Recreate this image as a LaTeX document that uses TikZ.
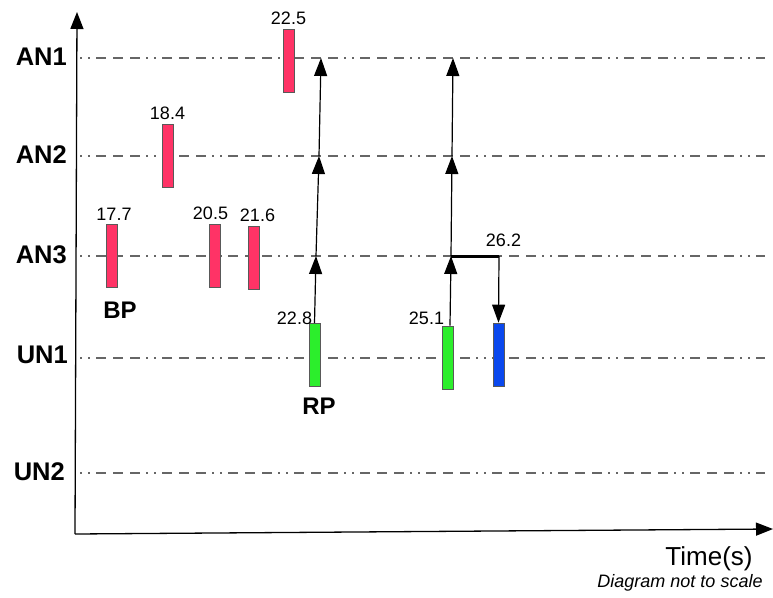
\documentclass[tikz,border=0pt]{standalone}
\usepackage{fontspec}
\setmainfont{Liberation Sans}
\usetikzlibrary{arrows.meta,positioning}

\definecolor{bpred}{HTML}{FF3366}
\definecolor{rpgreen}{HTML}{2CEE2C}
\definecolor{rpblue}{HTML}{0A48EE}

\tikzset{
  level/.style={font=\fontsize{25.5}{28}\selectfont\bfseries, anchor=east, inner sep=0pt},
  tag/.style={font=\fontsize{24}{28}\selectfont\bfseries, inner sep=0pt},
  val/.style={font=\fontsize{18}{20}\selectfont},
  grid/.style={draw=black!60, line width=1.4pt,
    dash pattern=on 2pt off 6pt on 2pt off 6pt on 10pt off 7pt on 10pt off 7pt on 10pt off 6pt},
  bar/.style={draw=black!65, line width=0.6pt, minimum width=11pt, minimum height=63pt, inner sep=0pt},
  hop/.style={-{Triangle[length=18pt,width=13pt]}, line width=1.2pt},
  axis/.style={-{Triangle[length=17pt,width=13pt]}, line width=1.3pt}
}

\begin{document}
\begin{tikzpicture}[x=1pt, y=-1pt]
    \useasboundingbox (0,0) rectangle (773,597);
    %levels
    \node[level] (AN1) at (67,57) {AN1};
    \node[level] (AN2) at (67,155) {AN2};
    \node[level] (AN3) at (67,255) {AN3};
    \node[level] (UN1) at (68,355) {UN1};
    \node[level] (UN2) at (65,472) {UN2};
    \draw[grid] (80,58) -- (765,58);
    \draw[grid] (80,156) -- (765,156);
    \draw[grid] (80,256) -- (765,256);
    \draw[grid] (80,358) -- (765,358);
    \draw[grid] (80,473) -- (765,473);
    %axes
    \coordinate (origin) at (75,534);
    \coordinate (ytop) at (77,12);
    \coordinate (xend) at (773,529);
    \draw[axis] (origin) -- (ytop);
    \draw[axis] (origin) -- (xend);
    \node[font=\fontsize{26}{30}\selectfont, anchor=base] (time) at (709,565) {Time(s)};
    \node[font=\fontsize{18}{22}\selectfont\itshape, anchor=base] (note) at (680,587) {Diagram not to scale};
    %bars
    \node[bar, fill=bpred] (b177) at (112,255.5) {};
    \node[bar, fill=bpred] (b184) at (167.5,155.5) {};
    \node[bar, fill=bpred] (b205) at (214.5,255.5) {};
    \node[bar, fill=bpred] (b216) at (253.5,257.5) {};
    \node[bar, fill=bpred] (b225) at (288.5,60.5) {};
    \node[bar, fill=rpgreen] (g228) at (314.5,355) {};
    \node[bar, fill=rpgreen] (g251) at (448,357.5) {};
    \node[bar, fill=rpblue] (u262) at (498.5,354.5) {};
    %values
    \node[val, above=0pt of b177, xshift=2pt] {17.7};
    \node[val, above=0pt of b184] {18.4};
    \node[val, above=0pt of b205, xshift=-4pt] {20.5};
    \node[val, above=0pt of b216, xshift=4pt] {21.6};
    \node[val, above=0pt of b225] {22.5};
    \node[val] (t228) at (294.5,318) {22.8};
    \node[val] (t251) at (426.5,318) {25.1};
    \node[val] (t262) at (503.5,240) {26.2};
    \node[tag] (BP) at (120,310) {BP};
    \node[tag] (RP) at (319,406) {RP};
    %hops
    \coordinate (j1) at (316,256);
    \coordinate (j2) at (319,156);
    \coordinate (j3) at (321,58);
    \coordinate (k1) at (451,256);
    \coordinate (k2) at (452,156);
    \coordinate (k3) at (453,58);
    \coordinate (k4) at (499,256);
    \draw[hop] (g228.north) -- (j1);
    \draw[hop] (j1) -- (j2);
    \draw[hop] (j2) -- (j3);
    \draw[hop] ([xshift=2pt]g251.north) -- (k1);
    \draw[hop] (k1) -- (k2);
    \draw[hop] (k2) -- (k3);
    \draw[line width=3pt] (k1) -- (k4);
    \draw[hop] (k4) -- (u262.north);
\end{tikzpicture}
\end{document}
